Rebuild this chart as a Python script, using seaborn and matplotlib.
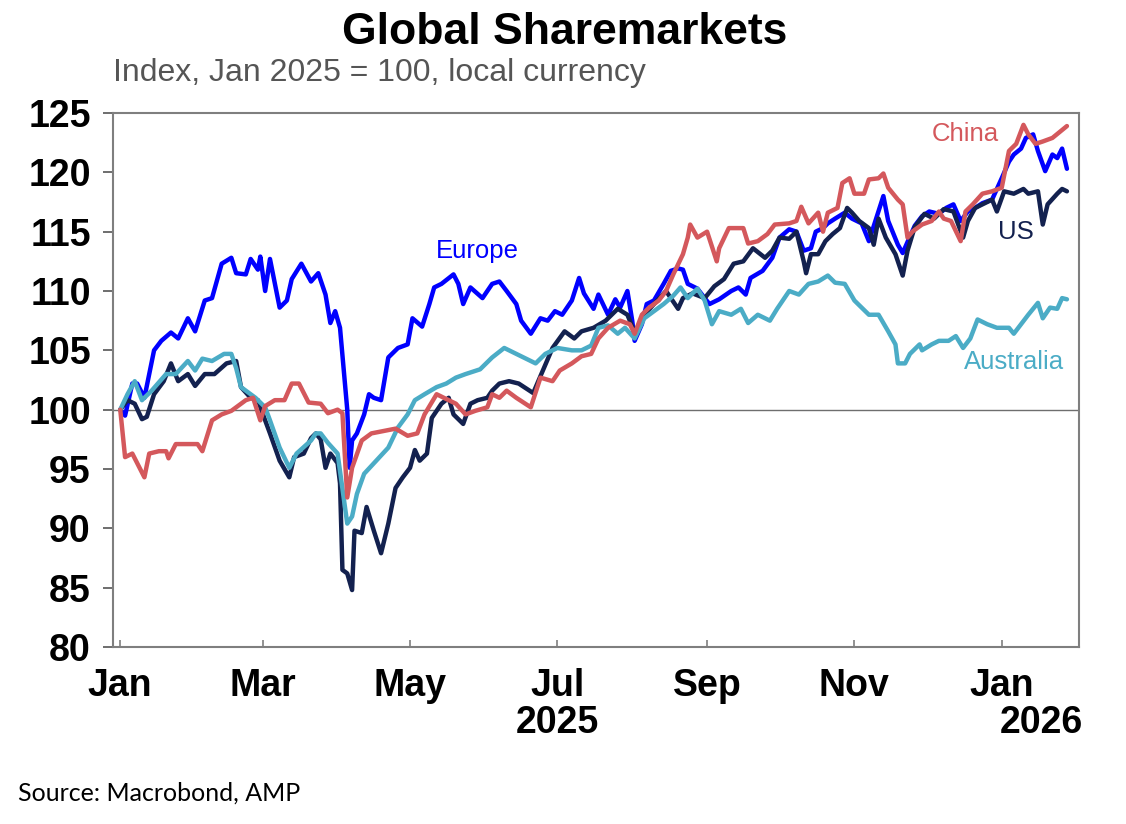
import matplotlib
matplotlib.use("Agg")
import matplotlib.pyplot as plt
import matplotlib.transforms as mtransforms
import seaborn as sns
import pandas as pd

# ---------------- data ----------------
europe_dates = [
    "2025-01-01", "2025-01-03", "2025-01-06", "2025-01-08", "2025-01-11", "2025-01-15", "2025-01-18",
    "2025-01-22", "2025-01-25", "2025-01-29", "2025-02-01", "2025-02-05", "2025-02-08", "2025-02-12",
    "2025-02-16", "2025-02-18", "2025-02-22", "2025-02-24", "2025-02-27", "2025-02-28", "2025-03-02",
    "2025-03-04", "2025-03-08", "2025-03-11", "2025-03-13", "2025-03-17", "2025-03-21", "2025-03-24",
    "2025-03-27", "2025-03-29", "2025-03-31", "2025-04-02", "2025-04-05", "2025-04-06", "2025-04-07",
    "2025-04-09", "2025-04-12", "2025-04-14", "2025-04-16", "2025-04-19", "2025-04-22", "2025-04-26",
    "2025-04-30", "2025-05-02", "2025-05-06", "2025-05-09", "2025-05-11", "2025-05-14", "2025-05-19",
    "2025-05-21", "2025-05-23", "2025-05-26", "2025-05-31", "2025-06-04", "2025-06-07", "2025-06-10",
    "2025-06-14", "2025-06-16", "2025-06-20", "2025-06-24", "2025-06-27", "2025-06-30", "2025-07-03",
    "2025-07-07", "2025-07-10", "2025-07-12", "2025-07-16", "2025-07-18", "2025-07-22", "2025-07-25",
    "2025-07-27", "2025-07-30", "2025-08-01", "2025-08-02", "2025-08-05", "2025-08-07", "2025-08-10",
    "2025-08-14", "2025-08-17", "2025-08-20", "2025-08-22", "2025-08-24", "2025-08-28", "2025-08-31",
    "2025-09-02", "2025-09-06", "2025-09-11", "2025-09-14", "2025-09-17", "2025-09-19", "2025-09-24",
    "2025-09-28", "2025-10-01", "2025-10-05", "2025-10-08", "2025-10-11", "2025-10-14", "2025-10-16",
    "2025-10-19", "2025-10-21", "2025-10-24", "2025-10-28", "2025-10-31", "2025-11-04", "2025-11-07",
    "2025-11-10", "2025-11-13", "2025-11-15", "2025-11-19", "2025-11-21", "2025-11-24", "2025-11-26",
    "2025-11-29", "2025-12-02", "2025-12-06", "2025-12-09", "2025-12-12", "2025-12-15", "2025-12-18",
    "2025-12-21", "2025-12-24", "2025-12-28", "2026-01-01", "2026-01-04", "2026-01-06", "2026-01-09",
    "2026-01-11", "2026-01-14", "2026-01-16", "2026-01-19", "2026-01-22", "2026-01-24", "2026-01-26",
    "2026-01-28",
]
europe_values = [
    100.0, 99.5, 102.2, 102.2, 101.0, 105.0, 105.8,
    106.5, 106.0, 107.7, 106.6, 109.2, 109.4, 112.3,
    112.8, 111.5, 111.4, 112.7, 111.8, 112.9, 110.0,
    112.7, 108.6, 109.2, 111.0, 112.3, 110.8, 111.5,
    109.7, 107.3, 108.3, 106.9, 100.0, 95.1, 97.4,
    98.0, 99.6, 101.3, 101.0, 100.8, 104.4, 105.2,
    105.5, 107.7, 107.0, 108.9, 110.3, 110.6, 111.4,
    110.6, 108.9, 110.3, 109.4, 110.6, 110.8, 110.0,
    108.9, 107.5, 106.4, 107.7, 107.5, 108.3, 108.0,
    109.2, 111.1, 109.8, 108.5, 109.7, 108.0, 109.3,
    108.6, 110.0, 107.5, 105.8, 107.2, 108.9, 109.2,
    110.6, 111.7, 111.9, 111.8, 110.6, 110.2, 109.4,
    108.9, 109.3, 110.0, 110.3, 109.7, 111.1, 111.7,
    112.8, 114.5, 115.2, 115.0, 113.4, 113.6, 115.0,
    115.3, 115.7, 116.1, 116.6, 116.1, 115.7, 114.2,
    116.1, 118.0, 115.9, 113.9, 113.2, 114.6, 115.5,
    116.3, 116.7, 116.5, 117.0, 117.3, 115.9, 116.7,
    117.0, 117.4, 117.7, 119.5, 120.9, 121.5, 122.0,
    122.9, 123.2, 121.8, 120.1, 121.5, 121.2, 122.0,
    120.3,
]

us_dates = [
    "2025-01-01", "2025-01-04", "2025-01-07", "2025-01-10", "2025-01-12", "2025-01-15", "2025-01-19",
    "2025-01-22", "2025-01-25", "2025-01-29", "2025-02-01", "2025-02-05", "2025-02-09", "2025-02-14",
    "2025-02-18", "2025-02-20", "2025-02-24", "2025-02-27", "2025-03-02", "2025-03-04", "2025-03-08",
    "2025-03-12", "2025-03-14", "2025-03-18", "2025-03-21", "2025-03-23", "2025-03-25", "2025-03-27",
    "2025-03-29", "2025-04-01", "2025-04-02", "2025-04-03", "2025-04-05", "2025-04-07", "2025-04-08",
    "2025-04-11", "2025-04-13", "2025-04-16", "2025-04-19", "2025-04-22", "2025-04-25", "2025-04-28",
    "2025-05-01", "2025-05-03", "2025-05-05", "2025-05-08", "2025-05-10", "2025-05-14", "2025-05-17",
    "2025-05-19", "2025-05-23", "2025-05-26", "2025-05-29", "2025-06-02", "2025-06-04", "2025-06-07",
    "2025-06-11", "2025-06-15", "2025-06-21", "2025-06-25", "2025-06-29", "2025-07-04", "2025-07-08",
    "2025-07-11", "2025-07-16", "2025-07-21", "2025-07-26", "2025-07-30", "2025-08-02", "2025-08-06",
    "2025-08-10", "2025-08-15", "2025-08-20", "2025-08-22", "2025-08-26", "2025-08-31", "2025-09-04",
    "2025-09-08", "2025-09-12", "2025-09-16", "2025-09-20", "2025-09-25", "2025-09-28", "2025-10-01",
    "2025-10-05", "2025-10-08", "2025-10-11", "2025-10-12", "2025-10-14", "2025-10-17", "2025-10-20",
    "2025-10-23", "2025-10-26", "2025-10-29", "2025-10-31", "2025-11-03", "2025-11-07", "2025-11-09",
    "2025-11-11", "2025-11-14", "2025-11-18", "2025-11-21", "2025-11-23", "2025-11-26", "2025-11-30",
    "2025-12-04", "2025-12-08", "2025-12-12", "2025-12-16", "2025-12-18", "2025-12-21", "2025-12-24",
    "2025-12-28", "2025-12-30", "2026-01-02", "2026-01-06", "2026-01-10", "2026-01-12", "2026-01-16",
    "2026-01-18", "2026-01-20", "2026-01-24", "2026-01-26", "2026-01-28",
]
us_values = [
    100.0, 100.8, 100.5, 99.2, 99.4, 101.3, 102.4,
    103.9, 102.4, 103.0, 102.0, 103.0, 103.0, 103.9,
    104.1, 101.9, 101.0, 100.8, 99.1, 98.0, 95.7,
    94.3, 96.0, 96.3, 97.6, 98.0, 97.5, 95.1,
    96.3, 95.5, 93.8, 86.5, 86.2, 84.8, 89.8,
    89.6, 91.8, 89.8, 87.9, 90.4, 93.4, 94.3,
    95.1, 96.6, 95.7, 96.3, 99.3, 100.5, 101.0,
    99.6, 98.8, 100.5, 100.8, 101.0, 101.6, 102.2,
    102.4, 102.2, 101.4, 103.3, 105.2, 106.6, 106.0,
    106.6, 106.9, 107.5, 108.5, 108.0, 106.5, 108.0,
    108.9, 110.0, 108.5, 109.4, 109.8, 109.4, 110.4,
    111.0, 112.3, 112.5, 113.6, 112.8, 113.4, 114.5,
    114.4, 115.0, 112.5, 111.5, 113.1, 113.1, 114.2,
    114.8, 115.3, 117.0, 116.6, 115.9, 115.3, 113.9,
    116.1, 114.5, 113.1, 111.3, 113.4, 115.4, 116.5,
    116.1, 116.9, 116.7, 114.5, 115.9, 117.0, 117.3,
    117.7, 116.7, 118.4, 118.2, 118.6, 118.2, 118.4,
    115.6, 117.3, 118.2, 118.6, 118.4,
]

china_dates = [
    "2025-01-01", "2025-01-03", "2025-01-06", "2025-01-08", "2025-01-11", "2025-01-13", "2025-01-17",
    "2025-01-20", "2025-01-21", "2025-01-24", "2025-01-28", "2025-02-02", "2025-02-04", "2025-02-08",
    "2025-02-12", "2025-02-16", "2025-02-18", "2025-02-22", "2025-02-25", "2025-02-28", "2025-03-02",
    "2025-03-06", "2025-03-10", "2025-03-13", "2025-03-16", "2025-03-20", "2025-03-25", "2025-03-28",
    "2025-04-01", "2025-04-03", "2025-04-05", "2025-04-07", "2025-04-11", "2025-04-15", "2025-04-20",
    "2025-04-25", "2025-04-30", "2025-05-04", "2025-05-07", "2025-05-12", "2025-05-17", "2025-05-20",
    "2025-05-24", "2025-05-28", "2025-06-02", "2025-06-04", "2025-06-07", "2025-06-10", "2025-06-14",
    "2025-06-20", "2025-06-24", "2025-06-29", "2025-07-02", "2025-07-07", "2025-07-11", "2025-07-15",
    "2025-07-18", "2025-07-22", "2025-07-27", "2025-07-31", "2025-08-02", "2025-08-05", "2025-08-08",
    "2025-08-12", "2025-08-15", "2025-08-18", "2025-08-22", "2025-08-24", "2025-08-25", "2025-08-28",
    "2025-09-01", "2025-09-05", "2025-09-06", "2025-09-10", "2025-09-16", "2025-09-18", "2025-09-22",
    "2025-09-26", "2025-09-29", "2025-10-05", "2025-10-08", "2025-10-10", "2025-10-13", "2025-10-17",
    "2025-10-19", "2025-10-21", "2025-10-25", "2025-10-27", "2025-10-30", "2025-11-01", "2025-11-05",
    "2025-11-07", "2025-11-11", "2025-11-13", "2025-11-15", "2025-11-19", "2025-11-21", "2025-11-23",
    "2025-11-25", "2025-11-29", "2025-12-03", "2025-12-06", "2025-12-08", "2025-12-11", "2025-12-15",
    "2025-12-17", "2025-12-20", "2025-12-24", "2025-12-28", "2026-01-01", "2026-01-04", "2026-01-07",
    "2026-01-10", "2026-01-12", "2026-01-15", "2026-01-18", "2026-01-22", "2026-01-25", "2026-01-28",
]
china_values = [
    100.0, 96.0, 96.3, 95.5, 94.3, 96.3, 96.5,
    96.5, 95.9, 97.1, 97.1, 97.1, 96.5, 99.1,
    99.6, 99.9, 100.2, 100.8, 101.0, 99.1, 100.3,
    100.8, 100.8, 102.2, 102.2, 100.6, 100.5, 99.7,
    100.0, 99.7, 92.6, 95.1, 97.4, 98.0, 98.2,
    98.4, 97.8, 98.0, 99.6, 101.3, 100.8, 100.5,
    99.6, 99.9, 100.2, 101.3, 101.0, 101.6, 101.0,
    100.2, 102.7, 102.4, 103.3, 103.9, 104.5, 104.7,
    106.0, 106.9, 107.5, 107.2, 106.4, 108.0, 108.6,
    109.2, 110.0, 111.4, 113.1, 114.5, 115.6, 114.5,
    115.0, 112.5, 113.6, 115.3, 115.3, 114.0, 114.2,
    114.8, 115.6, 115.7, 115.9, 117.1, 115.7, 116.6,
    115.0, 116.6, 117.0, 119.1, 119.5, 118.2, 118.2,
    119.4, 119.5, 119.9, 118.7, 117.7, 117.3, 114.5,
    115.0, 115.6, 115.9, 116.7, 116.1, 115.9, 114.2,
    116.7, 117.3, 118.2, 118.4, 118.7, 121.8, 122.4,
    124.0, 123.2, 122.4, 122.6, 122.9, 123.4, 123.9,
]

australia_dates = [
    "2025-01-01", "2025-01-04", "2025-01-07", "2025-01-10", "2025-01-14", "2025-01-20", "2025-01-24",
    "2025-01-29", "2025-02-01", "2025-02-04", "2025-02-08", "2025-02-13", "2025-02-16", "2025-02-18",
    "2025-02-20", "2025-02-26", "2025-03-02", "2025-03-04", "2025-03-08", "2025-03-12", "2025-03-15",
    "2025-03-21", "2025-03-23", "2025-03-25", "2025-03-28", "2025-04-01", "2025-04-05", "2025-04-07",
    "2025-04-09", "2025-04-12", "2025-04-17", "2025-04-22", "2025-04-26", "2025-04-30", "2025-05-03",
    "2025-05-07", "2025-05-12", "2025-05-16", "2025-05-20", "2025-05-24", "2025-05-30", "2025-06-04",
    "2025-06-09", "2025-06-14", "2025-06-22", "2025-06-26", "2025-07-01", "2025-07-07", "2025-07-11",
    "2025-07-15", "2025-07-18", "2025-07-22", "2025-07-26", "2025-07-29", "2025-08-02", "2025-08-06",
    "2025-08-10", "2025-08-14", "2025-08-18", "2025-08-21", "2025-08-24", "2025-08-28", "2025-08-31",
    "2025-09-03", "2025-09-06", "2025-09-11", "2025-09-15", "2025-09-18", "2025-09-22", "2025-09-27",
    "2025-09-30", "2025-10-05", "2025-10-09", "2025-10-13", "2025-10-17", "2025-10-21", "2025-10-24",
    "2025-10-28", "2025-11-01", "2025-11-04", "2025-11-07", "2025-11-11", "2025-11-15", "2025-11-18",
    "2025-11-19", "2025-11-22", "2025-11-24", "2025-11-28", "2025-11-29", "2025-12-03", "2025-12-06",
    "2025-12-10", "2025-12-13", "2025-12-16", "2025-12-19", "2025-12-22", "2025-12-26", "2025-12-30",
    "2026-01-04", "2026-01-06", "2026-01-09", "2026-01-12", "2026-01-16", "2026-01-18", "2026-01-21",
    "2026-01-24", "2026-01-26", "2026-01-28",
]
australia_values = [
    100.0, 101.3, 102.4, 100.8, 101.6, 103.0, 103.0,
    104.1, 103.3, 104.3, 104.1, 104.7, 104.7, 103.5,
    101.9, 101.0, 100.2, 99.1, 96.8, 95.1, 96.3,
    97.4, 98.0, 98.0, 97.2, 96.3, 90.4, 91.0,
    92.9, 94.6, 95.7, 96.8, 98.5, 99.6, 100.8,
    101.3, 101.9, 102.2, 102.7, 103.0, 103.4, 104.4,
    105.2, 104.7, 103.9, 104.7, 105.2, 105.0, 105.0,
    105.4, 106.9, 107.1, 106.4, 106.9, 106.0, 107.7,
    108.3, 108.9, 109.6, 110.3, 109.4, 110.2, 109.2,
    107.2, 108.3, 108.0, 108.5, 107.3, 108.0, 107.5,
    108.5, 110.0, 109.7, 110.6, 110.8, 111.3, 110.7,
    110.6, 109.2, 108.6, 108.0, 108.0, 106.6, 105.5,
    103.9, 103.9, 104.7, 105.5, 105.0, 105.5, 105.8,
    105.8, 106.2, 105.2, 106.0, 107.6, 107.2, 106.9,
    106.9, 106.4, 107.2, 108.0, 109.0, 107.7, 108.6,
    108.5, 109.4, 109.3,
]

series_names = ["Europe", "US", "Australia", "China"]
series_colors = ["#0000FF", "#13214F", "#4BACC6", "#D4585C"]
month_labels = ["Jan", "Mar", "May", "Jul", "Sep", "Nov", "Jan"]
month_ticks = ["2025-01-01", "2025-03-01", "2025-05-01", "2025-07-01",
               "2025-09-01", "2025-11-01", "2026-01-01"]
year_labels = ["2025", "2026"]
y_ticks = [80, 85, 90, 95, 100, 105, 110, 115, 120, 125]

# ---------------- build long table ----------------
frames = []
for name, d, v in [("Europe", europe_dates, europe_values), ("US", us_dates, us_values),
                   ("Australia", australia_dates, australia_values), ("China", china_dates, china_values)]:
    frames.append(pd.DataFrame({"date": pd.to_datetime(d), "value": v, "market": name}))
df = pd.concat(frames, ignore_index=True)

# ---------------- style ----------------
sns.set_theme(style="white")
plt.rcParams["font.family"] = ["Liberation Sans", "DejaVu Sans"]
plt.rcParams["text.color"] = "black"
plt.rcParams["xtick.color"] = "black"
plt.rcParams["ytick.color"] = "black"

W, H = 1126, 824
fig = plt.figure(figsize=(W / 100, H / 100), dpi=100)
ax = fig.add_axes([113 / W, 1 - 647 / H, (1079 - 113) / W, (647 - 113) / H])

ax.axhline(100, color="#6e6e6e", lw=1.0, zorder=1)

sns.lineplot(data=df, x="date", y="value", hue="market", hue_order=series_names,
             palette=dict(zip(series_names, series_colors)), linewidth=3.2,
             estimator=None, sort=True, legend=False, ax=ax, zorder=3)

ax.set_xlim(pd.Timestamp("2024-12-29"), pd.Timestamp("2026-02-02"))
ax.set_ylim(80, 125)
ax.set_xlabel("")
ax.set_ylabel("")

# spines
for s in ax.spines.values():
    s.set_color("#7f7f7f")
    s.set_linewidth(1.5)
    s.set_visible(True)

# y axis
ax.set_yticks(y_ticks)
ax.set_yticklabels([str(t) for t in y_ticks])
ax.tick_params(axis="y", direction="out", length=7, width=1.2, color="#555555",
               labelcolor="black", pad=9, labelsize=27, left=True)
for lab in ax.get_yticklabels():
    lab.set_fontweight("bold")

# x axis
ax.set_xticks(pd.to_datetime(month_ticks))
ax.set_xticklabels(month_labels)
ax.tick_params(axis="x", direction="in", length=5, width=1.2, color="#7f7f7f",
               labelcolor="black", pad=15, labelsize=27, bottom=True)
for lab in ax.get_xticklabels():
    lab.set_fontweight("bold")

trans = mtransforms.blended_transform_factory(ax.transData, ax.transAxes)
ax.text(pd.Timestamp(month_ticks[3]), -0.142, year_labels[0], transform=trans, ha="center",
        va="center", fontsize=27, fontweight="bold", color="black")
ax.text(pd.Timestamp("2025-12-31"), -0.142, year_labels[1], transform=trans, ha="left",
        va="center", fontsize=27, fontweight="bold", color="black")

# series labels
ax.text(pd.Timestamp("2025-05-29"), 113.4, "Europe", color=series_colors[0], fontsize=18.5,
        ha="center", va="center")
ax.text(pd.Timestamp("2025-12-17"), 123.2, "China", color=series_colors[3], fontsize=18.5,
        ha="center", va="center")
ax.text(pd.Timestamp("2026-01-07"), 115.0, "US", color=series_colors[1], fontsize=18.5,
        ha="center", va="center")
ax.text(pd.Timestamp("2026-01-06"), 104.0, "Australia", color=series_colors[2], fontsize=18.5,
        ha="center", va="center")

# titles
fig.text(565 / W, 1 - 33 / H, "Global Sharemarkets", ha="center", va="center",
         fontsize=32, fontweight="bold", color="black")
fig.text(113 / W, 1 - 73 / H, "Index, Jan 2025 = 100, local currency", ha="left", va="center",
         fontsize=23, color="#555555")
fig.text(18 / W, 1 - 793 / H, "Source: Macrobond, AMP", ha="left", va="center",
         fontsize=18, color="black", family=["Lato", "DejaVu Sans"])

fig.savefig("out.png", dpi=100)
